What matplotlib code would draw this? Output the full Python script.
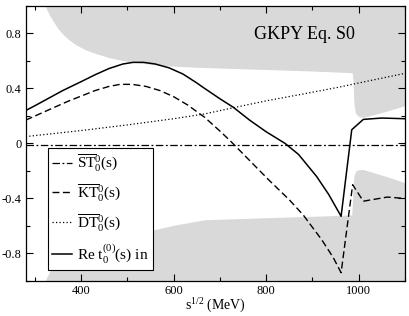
import matplotlib
matplotlib.use("Agg")
import matplotlib.pyplot as plt
from matplotlib.ticker import MultipleLocator, FuncFormatter

# upper uncertainty band (lower edge), filled up to the top of the frame
band_hi_s = [322, 326, 332, 340, 350, 360, 375, 390, 410, 435, 460, 490, 520,
             560, 600, 667, 800, 900, 986, 988, 989, 990, 993, 1000, 1010,
             1050, 1100]
band_hi_v = [1.0, 0.97, 0.93, 0.885, 0.835, 0.795, 0.75, 0.715, 0.68, 0.65,
             0.625, 0.603, 0.588, 0.572, 0.562, 0.552, 0.538, 0.527, 0.515,
             0.45, 0.35, 0.28, 0.22, 0.195, 0.19, 0.225, 0.275]

# lower uncertainty band (upper edge), filled down to the bottom of the frame
band_lo_s = [322, 326, 335, 350, 369, 400, 455, 500, 548, 600, 667, 800, 900,
             985, 987, 988, 990, 995, 1003, 1010, 1050, 1100]
band_lo_v = [-1.0, -0.97, -0.91, -0.855, -0.81, -0.765, -0.71, -0.67, -0.635,
             -0.595, -0.555, -0.54, -0.53, -0.52, -0.40, -0.30, -0.23, -0.195,
             -0.19, -0.19, -0.23, -0.285]

# Re t (solid)
re_s = [280, 300, 330, 360, 400, 430, 460, 490, 512, 535, 560, 590, 620, 650,
        667, 700, 729, 764, 800, 841, 870, 909, 935, 962, 985, 1010, 1050, 1100]
re_v = [0.24, 0.275, 0.33, 0.385, 0.45, 0.50, 0.545, 0.578, 0.59, 0.59, 0.578,
        0.55, 0.505, 0.44, 0.40, 0.325, 0.263, 0.17, 0.085, 0.0, -0.08, -0.24,
        -0.37, -0.53, 0.10, 0.175, 0.185, 0.18]

# KT (dashed)
kt_s = [280, 310, 340, 370, 400, 430, 460, 484, 510, 540, 570, 600, 630, 667,
        700, 725, 760, 807, 850, 880, 920, 945, 962, 987, 1010, 1062, 1100]
kt_v = [0.17, 0.215, 0.26, 0.305, 0.345, 0.385, 0.415, 0.43, 0.43, 0.415,
        0.385, 0.34, 0.28, 0.19, 0.09, 0.01, -0.11, -0.27, -0.41, -0.52, -0.70,
        -0.83, -0.94, -0.30, -0.42, -0.39, -0.40]

# DT (dotted)
dt_s = [280, 400, 500, 600, 667, 729, 800, 880, 958, 1000, 1050, 1100]
dt_v = [0.05, 0.094, 0.135, 0.18, 0.215, 0.26, 0.31, 0.36, 0.41, 0.44, 0.475, 0.51]

# ST (dash-dot)
st_s = [280, 1100]
st_v = [-0.01, -0.01]

labels = [r"$\overline{\mathrm{ST}}^{0}_{0}$(s)",
          r"$\overline{\mathrm{KT}}^{0}_{0}$(s)",
          r"$\overline{\mathrm{DT}}^{0}_{0}$(s)",
          r"Re t$^{(0)}_{0}$(s) in"]


def main():
    plt.rcParams["font.family"] = "Liberation Serif"
    plt.rcParams["mathtext.fontset"] = "custom"
    plt.rcParams["mathtext.rm"] = "Liberation Serif"
    plt.rcParams["mathtext.it"] = "Liberation Serif:italic"
    plt.rcParams["axes.unicode_minus"] = False

    fig = plt.figure(figsize=(4.09, 3.16), dpi=100)
    ax = fig.add_axes([0.063, 0.111, 0.927, 0.870])

    gray = "#d9d9d9"
    ax.fill_between(band_hi_s, band_hi_v, 1.0, color=gray, lw=0, zorder=1)
    ax.fill_between(band_lo_s, band_lo_v, -1.0, color=gray, lw=0, zorder=1)

    (l_st,) = ax.plot(st_s, st_v, color="black", lw=0.9, zorder=3)
    l_st.set_dashes([6, 2, 1.5, 2])
    (l_kt,) = ax.plot(kt_s, kt_v, color="black", lw=1.0, zorder=3)
    l_kt.set_dashes([5, 2.5])
    (l_dt,) = ax.plot(dt_s, dt_v, color="black", lw=0.9, zorder=3)
    l_dt.set_dashes([1, 1.8])
    (l_re,) = ax.plot(re_s, re_v, color="black", lw=1.1, zorder=3)

    ax.set_xlim(280, 1100)
    ax.set_ylim(-1.0, 1.0)
    ax.xaxis.set_major_locator(MultipleLocator(200))
    ax.xaxis.set_minor_locator(MultipleLocator(100))
    ax.yaxis.set_major_locator(MultipleLocator(0.4))
    ax.yaxis.set_minor_locator(MultipleLocator(0.2))
    ax.yaxis.set_major_formatter(FuncFormatter(lambda v, p: "%g" % round(v, 2)))
    ax.tick_params(which="both", direction="in", top=True, right=True,
                   labelsize=9, width=0.8, pad=3)
    ax.tick_params(which="major", length=5)
    ax.tick_params(which="minor", length=3)
    for sp in ax.spines.values():
        sp.set_linewidth(0.9)
        sp.set_zorder(4)

    ax.set_xlabel(r"s$^{1/2}$ (MeV)", fontsize=10, labelpad=0)

    ax.text(883, 0.79, "GKPY Eq. S0", fontsize=13, ha="center", va="center",
            zorder=5)

    leg = ax.legend([l_st, l_kt, l_dt, l_re], labels, loc="lower left",
                    bbox_to_anchor=(0.058, 0.04), fontsize=11,
                    handlelength=1.3, handletextpad=0.3, labelspacing=0.6,
                    borderpad=0.3, borderaxespad=0.0, fancybox=False,
                    framealpha=1.0, edgecolor="black")
    leg.get_frame().set_linewidth(0.8)
    leg.set_zorder(6)

    fig.savefig("out.png", dpi=100)


if __name__ == "__main__":
    main()
